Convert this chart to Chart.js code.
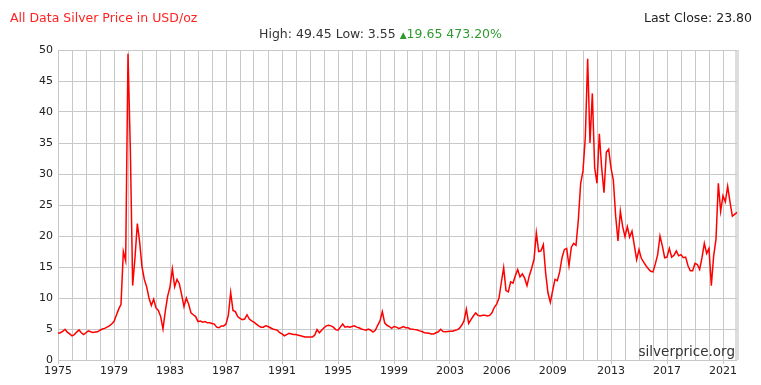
<!DOCTYPE html>
<html>
<head>
<meta charset="utf-8">
<script src="https://cdn.jsdelivr.net/npm/chart.js@4.4.1/dist/chart.umd.min.js"></script>
<style>
  body { margin: 0; background: #fff; }
  #wrap { position: relative; width: 761px; height: 385px; font-family: "DejaVu Sans", Verdana, sans-serif; }
  #box { position: absolute; left: 0; top: 0; width: 761px; height: 385px; }
  .hdr { position: absolute; font-size: 12.5px; line-height: 15px; white-space: nowrap; }
  #title { left: 10px; top: 10px; color: #ff2222; }
  #close { right: 9px; top: 10px; color: #222; }
  #stats { left: 0; width: 761px; top: 26px; text-align: center; color: #333; }
  #stats .up { color: #2e9a2e; }
  #stats .tri { font-size: 9px; }
  #mark { position: absolute; right: 26px; top: 343px; font-size: 13.5px; line-height: 16px; color: #333; }
</style>
</head>
<body>
<div id="wrap">
  <div id="box"><canvas id="silverChart"></canvas></div>
  <div class="hdr" id="title">All Data Silver Price in USD/oz</div>
  <div class="hdr" id="close">Last Close: 23.80</div>
  <div class="hdr" id="stats">High: 49.45 Low: 3.55 <span class="up"><span class="tri">▲</span>19.65 473.20%</span></div>
  <div id="mark">silverprice.org</div>
</div>
<script>
var years = [1975, 1976, 1977, 1978, 1979, 1980, 1981, 1982, 1983, 1984,
             1985, 1986, 1987, 1988, 1989, 1990, 1991, 1992, 1993, 1994,
             1995, 1996, 1997, 1998, 1999, 2000, 2001, 2002, 2003, 2004,
             2005, 2006, 2007, 2008, 2009, 2010, 2011, 2012, 2013, 2014,
             2015, 2016, 2017, 2018, 2019, 2020, 2021, 2022];

// USD/oz, samples through each year
var prices = [
    [4.3, 4.4, 4.6, 4.95, 4.5, 4.2],
    [3.9, 4.1, 4.5, 4.85, 4.4, 4.1],
    [4.4, 4.7, 4.55, 4.45, 4.5, 4.55],
    [4.8, 5.0, 5.1, 5.3, 5.5, 5.8],
    [6.2, 7.2, 8.2, 9.0, 17.5, 16.0],
    [49.4, 34, 12, 16.5, 22, 19],
    [15, 13, 11.8, 10, 8.8, 9.8],
    [8.4, 8.0, 7.0, 5.0, 7.9, 10.3],
    [11.8, 14.7, 11.8, 13.0, 12.3, 10.5],
    [8.6, 10.0, 9.0, 7.6, 7.3, 7.0],
    [6.2, 6.3, 6.1, 6.2, 6.0, 6.0],
    [5.9, 5.8, 5.3, 5.2, 5.5, 5.5],
    [5.8, 7.2, 10.9, 8.0, 7.8, 7.0],
    [6.7, 6.5, 6.6, 7.3, 6.6, 6.3],
    [6.1, 5.8, 5.5, 5.3, 5.3, 5.5],
    [5.4, 5.2, 5.0, 4.9, 4.8, 4.4],
    [4.2, 3.9, 4.1, 4.3, 4.2, 4.1],
    [4.1, 4.0, 3.9, 3.8, 3.7, 3.7],
    [3.7, 3.7, 4.0, 4.9, 4.4, 4.8],
    [5.2, 5.5, 5.6, 5.5, 5.3, 4.9],
    [4.8, 5.3, 5.8, 5.3, 5.4, 5.3],
    [5.4, 5.5, 5.3, 5.2, 5.0, 4.9],
    [4.8, 5.0, 4.8, 4.5, 4.8, 5.6],
    [6.3, 7.8, 6.0, 5.6, 5.4, 5.1],
    [5.4, 5.3, 5.1, 5.2, 5.4, 5.2],
    [5.2, 5.0, 4.95, 4.9, 4.85, 4.7],
    [4.6, 4.4, 4.35, 4.3, 4.2, 4.2],
    [4.4, 4.55, 4.95, 4.6, 4.55, 4.6],
    [4.65, 4.65, 4.75, 4.85, 5.1, 5.6],
    [6.3, 8.2, 5.9, 6.5, 7.1, 7.6],
    [7.2, 7.1, 7.2, 7.2, 7.1, 7.2, 7.6, 8.5],
    [9.0, 10.0, 12.5, 14.9, 11.2, 11.0, 12.6, 12.4],
    [13.6, 14.6, 13.4, 13.9, 13.2, 12.0, 13.6, 14.8],
    [16.2, 20.5, 17.5, 17.6, 18.6, 14, 10.8, 9.3],
    [11.2, 13.0, 12.8, 14.2, 16.5, 17.8],
    [18.0, 15.2, 18.2, 18.8, 18.5, 22.6, 28.5],
    [30.5, 36, 48.6, 35, 43, 31],
    [28.5, 36.5, 31, 27, 33.5, 34],
    [31, 29, 23.2, 19.2, 24, 21.5],
    [19.9, 21.5, 19.8, 20.8, 18.5, 16.2],
    [17.8, 16.4, 15.8, 15.2, 14.7, 14.3],
    [14.2, 15.5, 17.0, 20.0, 18.4, 16.5],
    [16.6, 18.0, 16.6, 16.9, 17.6, 16.8],
    [17.0, 16.5, 16.6, 15.2, 14.4, 14.4],
    [15.6, 15.4, 14.6, 16.5, 18.8, 17.2],
    [18.0, 12.0, 16.8, 19.5, 28.5, 24.0],
    [26.5, 25.5, 28, 25.5, 23.2, 23.5],
    [23.8]
];

var tickYears = [1975, 1979, 1983, 1987, 1991, 1995, 1999, 2003, 2006, 2009, 2013, 2017, 2021];

var labels = [], values = [], yearStart = [];
years.forEach(function (y, i) {
    prices[i].forEach(function (v, j) {
        labels.push(String(y));
        values.push(v);
        yearStart.push(j === 0);
    });
});
var lastIdx = values.length - 1;

function isTickYear(i) {
    return yearStart[i] && tickYears.indexOf(+labels[i]) >= 0;
}

var ctx = document.getElementById("silverChart");
var silverChart = new Chart(ctx, {
    type: 'line',
    data: {
        labels: labels,
        datasets: [{
            label: 'Silver',
            data: values,
            borderColor: '#ff0000',
            borderWidth: 1.5,
            pointRadius: 0,
            tension: 0,
            fill: false
        }]
    },
    options: {
        responsive: true,
        maintainAspectRatio: false,
        animation: false,
        events: [],
        layout: {
            padding: { top: 50, right: 24, left: 0, bottom: 0 }
        },
        plugins: {
            legend: { display: false },
            tooltip: { enabled: false }
        },
        scales: {
            x: {
                type: 'category',
                offset: false,
                afterFit: function (scale) { scale.height = 25; },
                border: { display: false },
                grid: {
                    color: function (c) {
                        if (c.index === lastIdx) return '#dddddd';
                        return yearStart[c.index] ? '#c8c8c8' : 'rgba(0,0,0,0)';
                    },
                    lineWidth: function (c) { return c.index === lastIdx ? 4 : 1; },
                    tickColor: function (c) { return isTickYear(c.index) ? '#c8c8c8' : 'rgba(0,0,0,0)'; },
                    tickLength: 4
                },
                ticks: {
                    autoSkip: false,
                    maxRotation: 0,
                    minRotation: 0,
                    padding: 1,
                    color: '#222',
                    font: { family: 'DejaVu Sans', size: 11 },
                    callback: function (val, i) { return isTickYear(i) ? labels[i] : ''; }
                }
            },
            y: {
                min: 0,
                max: 50,
                afterFit: function (scale) { scale.width = 58; },
                border: { display: false },
                grid: { color: '#c8c8c8', drawTicks: false },
                ticks: {
                    stepSize: 5,
                    padding: 5,
                    color: '#222',
                    font: { family: 'DejaVu Sans', size: 11 }
                }
            }
        }
    }
});
</script>
</body>
</html>
